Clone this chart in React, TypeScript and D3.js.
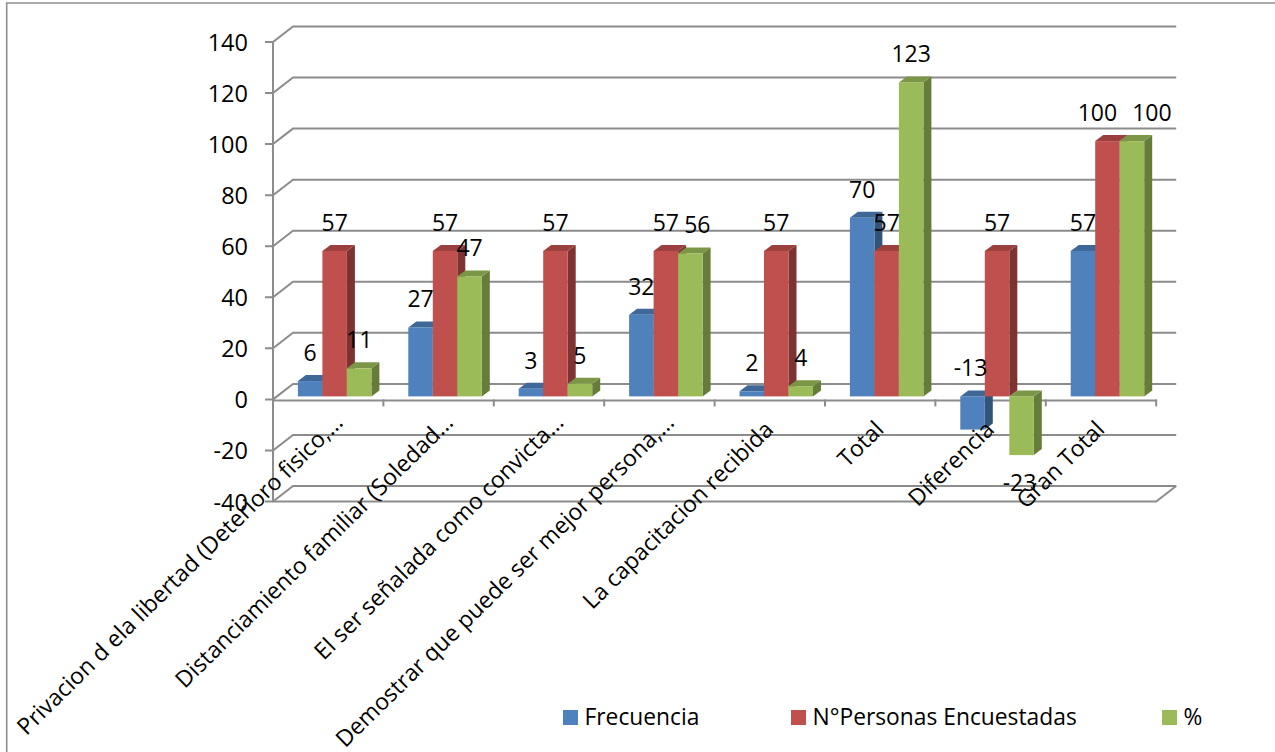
import * as d3 from 'd3';

const categories = [
  'Privacion d ela libertad (Deterioro fisico,…',
  'Distanciamiento familiar (Soledad…',
  'El ser señalada como convicta…',
  'Demostrar que puede ser mejor persona,…',
  'La capacitacion recibida',
  'Total',
  'Diferencia',
  'Gran Total',
];
const seriesNames = ['Frecuencia', 'N°Personas Encuestadas', '%'];
const frecuencia = [6, 27, 3, 32, 2, 70, -13, 57];
const personas = [57, 57, 57, 57, 57, 57, 57, 100];
const porcentaje = [11, 47, 5, 56, 4, 123, -23, 100];
const seriesValues = [frecuencia, personas, porcentaje];
const yTicks = [140, 120, 100, 80, 60, 40, 20, 0, -20, -40];

const frontColors = ['#4F81BD', '#C0504D', '#9BBB59'];
const sideColors = ['#335378', '#7D3331', '#667C3A'];
const topColors = ['#3F6797', '#9A403E', '#7C9647'];

const font = '"Open Sans", Lato, sans-serif';
const gridColor = '#8C8C8C';

// pseudo 3d offsets, back wall against front plane
const wallDx = 20;
const wallDy = -15.5;
const barDepthX = 8;
const barDepthY = -6;
const barShiftX = 6.5;
const barShiftY = -3;

const y = d3.scaleLinear().domain([-40, 140]).range([501.5, 42]);
const x = d3.scaleBand<string>().domain(categories).range([273, 1156.2]);
const xSeries = d3.scaleBand<string>().domain(seriesNames).range([18.4, 91.9]);

const legendX = d3.scaleOrdinal<string, number>().domain(seriesNames).range([563, 791, 1162]);

// etiquetas movidas a mano en el original (categoria-serie)
const labelNudge: Record<string, number> = { '3-2': 7, '7-1': -10, '7-2': 20 };

export default function App() {
  const left = x.range()[0];
  const right = x.range()[1];
  const zeroY = y(0);

  const bars = categories.flatMap((cat, i) =>
    seriesNames.map((name, s) => {
      const v = seriesValues[s][i];
      const x0 = x(cat)! + xSeries(name)! + barShiftX;
      const w = xSeries.bandwidth();
      const base = zeroY + barShiftY;
      const end = y(v) + barShiftY;
      const top = Math.min(base, end);
      const bottom = Math.max(base, end);
      return { key: `${i}-${s}`, s, v, x0, w, top, bottom };
    })
  );

  return (
    <svg width={1275} height={752} style={{ position: 'absolute', left: 0, top: 0, display: 'block' }}>
      <path d="M6.7,752V3H1275" fill="none" stroke="#8E8E8E" strokeWidth={1.6} />

      {/* paredes y lineas de division */}
      {yTicks.map(t => (
        <path
          key={t}
          d={`M${left - 8},${y(t)}H${left}L${left + wallDx},${y(t) + wallDy}H${right + wallDx}`}
          fill="none"
          stroke={gridColor}
          strokeWidth={2}
        />
      ))}
      <path
        d={`M${left},${y(-40)}H${right}L${right + wallDx},${y(-40) + wallDy}`}
        fill="none"
        stroke={gridColor}
        strokeWidth={2}
      />
      <line x1={left} x2={left} y1={y(140)} y2={y(-40)} stroke={gridColor} strokeWidth={2} />

      {/* eje de categorias */}
      <line x1={left} x2={right} y1={zeroY + 1} y2={zeroY + 1} stroke={gridColor} strokeWidth={2} />
      {categories.map(c => (
        <line
          key={c}
          x1={x(c)! + x.bandwidth()}
          x2={x(c)! + x.bandwidth()}
          y1={zeroY}
          y2={zeroY + 7}
          stroke={gridColor}
          strokeWidth={2}
        />
      ))}

      {/* barras */}
      {bars.map(b => (
        <g key={b.key}>
          <path
            d={`M${b.x0 + b.w},${b.top}l${barDepthX},${barDepthY}V${b.bottom + barDepthY}l${-barDepthX},${-barDepthY}Z`}
            fill={sideColors[b.s]}
          />
          <path
            d={`M${b.x0},${b.top}l${barDepthX},${barDepthY}h${b.w}l${-barDepthX},${-barDepthY}Z`}
            fill={topColors[b.s]}
          />
          <rect x={b.x0} y={b.top} width={b.w} height={b.bottom - b.top} fill={frontColors[b.s]} />
        </g>
      ))}

      {/* etiquetas del eje y */}
      {yTicks.map(t => (
        <text key={t} x={left - 25} y={y(t) + 9} textAnchor="end" fontFamily={font} fontSize={23.5} fill="#000">
          {t}
        </text>
      ))}

      {/* etiquetas de categoria, las que no llevan puntos suspensivos van mas abajo */}
      {categories.map(c => {
        const cut = c.endsWith('…');
        const px = x(c)! + x.bandwidth() / 2 + (cut ? 16 : 5);
        const py = cut ? 424 : 431;
        return (
          <text
            key={c}
            transform={`translate(${px},${py}) rotate(-44.5)`}
            textAnchor="end"
            fontFamily={font}
            fontSize={23}
            fill="#000"
          >
            {c}
          </text>
        );
      })}

      {/* valores */}
      {bars.map(b => {
        // el -23 queda bajo la barra, el -13 sobre la linea base
        const below = b.v < 0 && b.s === 2;
        const ly = below ? b.bottom + 36 : b.top - 20;
        return (
          <text
            key={b.key}
            x={b.x0 + b.w / 2 - (b.v < 0 ? 2 : 0) + (labelNudge[b.key] ?? 0)}
            y={ly}
            textAnchor="middle"
            fontFamily={font}
            fontSize={23}
            fill="#000"
          >
            {b.v}
          </text>
        );
      })}

      {/* leyenda */}
      {seriesNames.map((name, s) => (
        <g key={name}>
          <rect x={legendX(name)} y={710} width={15} height={15} fill={frontColors[s]} />
          <text x={legendX(name) + 21.5} y={725} fontFamily={font} fontSize={22.8} fill="#000">
            {name}
          </text>
        </g>
      ))}
    </svg>
  );
}
